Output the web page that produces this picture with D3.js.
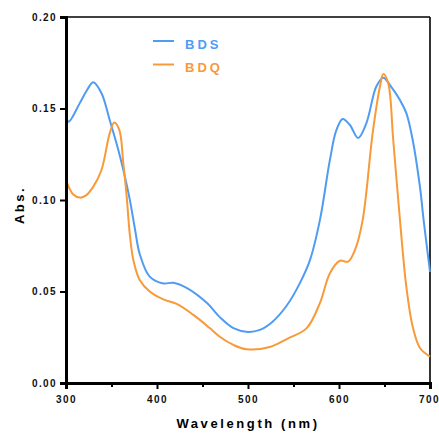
<!DOCTYPE html>
<html>
<head>
<meta charset="utf-8">
<script src="https://cdn.jsdelivr.net/npm/d3@7"></script>
<style>
  html, body { margin: 0; padding: 0; background: #fff; }
  svg text { font-family: "Liberation Sans", Arial, sans-serif; font-weight: bold; }
</style>
</head>
<body>
<svg id="chart" width="439" height="434"></svg>
<script>
// Absorption spectra (wavelength in nm, absorbance)
const bdsWavelength = [300, 303, 315, 323, 330, 339, 348, 357.5, 363, 370, 376, 381, 392, 407, 418, 433, 455, 469, 484, 500, 513, 527, 543, 557, 568, 579, 590, 597, 604, 612, 621, 630, 641, 648.7, 656, 667, 674, 681, 689, 693, 700];
const bdsAbs        = [0.1454, 0.1428, 0.1528, 0.160, 0.1643, 0.1583, 0.1437, 0.1273, 0.1164, 0.1005, 0.0835, 0.0705, 0.0581, 0.0544, 0.0548, 0.0519, 0.0437, 0.036, 0.030, 0.0279, 0.029, 0.0335, 0.0426, 0.0546, 0.067, 0.089, 0.1219, 0.138, 0.1443, 0.141, 0.1339, 0.1419, 0.162, 0.1668, 0.1628, 0.1546, 0.1475, 0.1328, 0.107, 0.089, 0.0607];

const bdqWavelength = [300, 308, 315.4, 322, 330, 339, 348, 353, 358.6, 363, 366.7, 370, 374, 381, 392, 407, 421.6, 440, 458, 469, 484, 498.5, 524, 542.5, 564.5, 579, 590, 601, 610, 617.6, 626, 637, 645, 648.7, 654, 659.6, 667, 674, 681, 689, 700];
const bdqAbs        = [0.1109, 0.1030, 0.1013, 0.1025, 0.1073, 0.1164, 0.1364, 0.1424, 0.1383, 0.120, 0.1018, 0.0818, 0.0672, 0.0563, 0.050, 0.0457, 0.0432, 0.0372, 0.030, 0.0253, 0.0208, 0.0184, 0.0197, 0.024, 0.030, 0.0437, 0.060, 0.0668, 0.0663, 0.0727, 0.089, 0.1366, 0.162, 0.1689, 0.164, 0.1328, 0.089, 0.0526, 0.0308, 0.0191, 0.0144];

const seriesNames = ["BDS", "BDQ"];
const seriesColors = ["#4f9cf2", "#f89a3a"];

const xMajorTicks = [300, 400, 500, 600, 700];
const xMinorTicks = [350, 450, 550, 650];
const yTicks = [0.00, 0.05, 0.10, 0.15, 0.20];

const svg = d3.select("#chart");
const plotLeft = 66, plotRight = 430, plotTop = 17, plotBottom = 383;

const x = d3.scaleLinear().domain([300, 700]).range([plotLeft, plotRight]);
const y = d3.scaleLinear().domain([0, 0.2]).range([plotBottom, plotTop]);

// frame: top and right edges
svg.append("line").attr("x1", plotLeft).attr("x2", plotRight).attr("y1", plotTop).attr("y2", plotTop)
  .attr("stroke", "#000").attr("stroke-width", 1.6);
svg.append("line").attr("x1", plotRight).attr("x2", plotRight).attr("y1", plotTop).attr("y2", plotBottom)
  .attr("stroke", "#000").attr("stroke-width", 1.6);

// curves
const series = [
  { name: seriesNames[0], color: seriesColors[0], pts: bdsWavelength.map((w, i) => [w, bdsAbs[i]]) },
  { name: seriesNames[1], color: seriesColors[1], pts: bdqWavelength.map((w, i) => [w, bdqAbs[i]]) }
];
const line = d3.line().x(d => x(d[0])).y(d => y(d[1])).curve(d3.curveCatmullRom.alpha(0.5));

svg.append("g").selectAll("path").data(series).join("path")
  .attr("d", d => line(d.pts))
  .attr("fill", "none")
  .attr("stroke", d => d.color)
  .attr("stroke-width", 2);

// y axis
svg.append("g").attr("transform", `translate(${plotLeft},0)`)
  .call(d3.axisLeft(y).tickValues(yTicks).tickFormat(d3.format(".2f")).tickSize(6).tickPadding(3));
// x axis (major)
svg.append("g").attr("class", "x-major").attr("transform", `translate(0,${plotBottom})`)
  .call(d3.axisBottom(x).tickValues(xMajorTicks).tickFormat(d3.format("d")).tickSize(6).tickPadding(7));
// x axis minor ticks
svg.append("g").attr("transform", `translate(0,${plotBottom})`)
  .call(d3.axisBottom(x).tickValues(xMinorTicks).tickFormat("").tickSize(4))
  .call(g => g.select(".domain").remove());

svg.selectAll(".domain").attr("stroke", "#000").attr("stroke-width", 3);
svg.selectAll(".tick line").attr("stroke", "#000").attr("stroke-width", 2);
svg.selectAll(".tick text").attr("fill", "#111").style("font-size", "10px")
  .style("font-family", "'Liberation Sans', Arial, sans-serif").style("font-weight", "bold")
  .style("letter-spacing", "1.4px");
// keep the last x label inside the page edge
svg.selectAll(".x-major .tick text").filter(d => d === 700).attr("dx", "-1px");

// axis titles
svg.append("text")
  .attr("transform", `translate(24,205) rotate(-90)`)
  .attr("text-anchor", "middle")
  .style("font-size", "13px").style("letter-spacing", "2.5px")
  .attr("fill", "#000")
  .text("Abs.");

svg.append("text")
  .attr("x", 248).attr("y", 428)
  .attr("text-anchor", "middle")
  .style("font-size", "13px").style("letter-spacing", "2.6px")
  .attr("fill", "#000")
  .text("Wavelength (nm)");

// legend
const legend = svg.append("g");
series.forEach((s, i) => {
  const ly = 41 + i * 23.5;
  legend.append("line").attr("x1", 153).attr("x2", 174).attr("y1", ly).attr("y2", ly)
    .attr("stroke", s.color).attr("stroke-width", 2);
  legend.append("text").attr("x", 185).attr("y", ly + 7.5)
    .style("font-size", "13px").style("letter-spacing", "3px")
    .attr("fill", s.color).text(s.name);
});
</script>
</body>
</html>
